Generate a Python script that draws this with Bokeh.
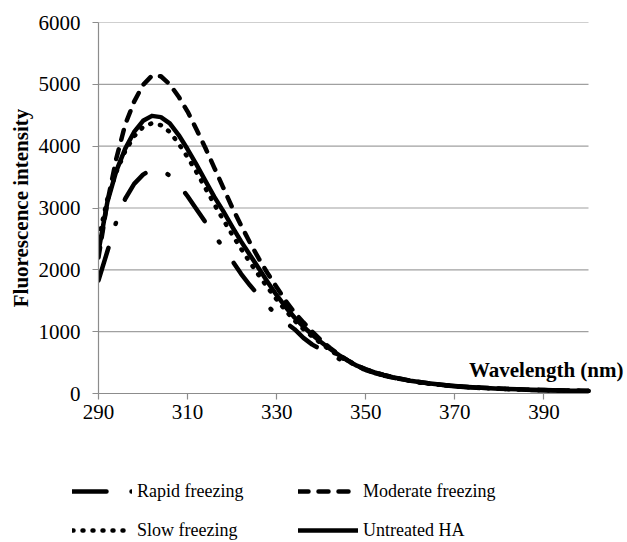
from bokeh.plotting import figure
from bokeh.layouts import column
from bokeh.models import Range1d, FixedTicker, Legend, LegendItem, Label, ColumnDataSource
from bokeh.embed import file_html
from bokeh.resources import INLINE

# ---- data ----
wavelength = [290, 292, 294, 296, 298, 300, 302, 304, 306, 308,
              310, 312, 314, 316, 318, 320, 322, 324, 326, 328,
              330, 332, 334, 336, 338, 340, 342, 344, 346, 348,
              350, 352, 354, 356, 358, 360, 362, 364, 366, 368,
              370, 372, 374, 376, 378, 380, 382, 384, 386, 388,
              390, 392, 394, 396, 398, 400]

rapid = [1830, 2300, 2780, 3150, 3390, 3540, 3630, 3630, 3520, 3380,
         3190, 2980, 2770, 2560, 2360, 2150, 1935, 1750, 1580, 1415,
         1270, 1150, 1040, 900, 790, 710, 630, 560, 495, 435,
         380, 332, 292, 258, 228, 200, 178, 159, 143, 129,
         117, 106, 97, 89, 82, 76, 70, 65, 60, 56,
         53, 50, 47, 44, 42, 40]

moderate = [2200, 3100, 3800, 4350, 4720, 4990, 5140, 5130, 5000, 4800,
            4560, 4270, 3970, 3650, 3330, 3010, 2720, 2440, 2180, 1940,
            1720, 1500, 1310, 1150, 1000, 860, 735, 625, 535, 455,
            392, 342, 300, 265, 235, 207, 186, 166, 149, 134,
            121, 110, 101, 93, 86, 79, 73, 68, 63, 59,
            56, 53, 50, 47, 45, 43]

slow = [2500, 3150, 3580, 3920, 4160, 4310, 4370, 4340, 4230, 4040,
        3820, 3580, 3320, 3060, 2810, 2570, 2340, 2120, 1910, 1710,
        1520, 1340, 1180, 1040, 920, 810, 700, 605, 520, 445,
        385, 335, 295, 260, 230, 202, 180, 161, 145, 130,
        118, 107, 98, 90, 83, 77, 71, 66, 61, 57,
        54, 51, 48, 45, 43, 41]

untreated = [2300, 3100, 3600, 3960, 4230, 4410, 4490, 4470, 4370, 4180,
             3950, 3700, 3440, 3180, 2950, 2700, 2460, 2240, 2020, 1800,
             1590, 1400, 1230, 1080, 950, 830, 720, 620, 530, 450,
             390, 340, 300, 265, 235, 205, 185, 165, 148, 133,
             120, 109, 100, 92, 85, 78, 72, 67, 62, 58,
             55, 52, 49, 46, 44, 42]

series_names = ["Rapid freezing", "Moderate freezing", "Slow freezing", "Untreated HA"]
series_cols = ["rapid", "moderate", "slow", "untreated"]
x_ticks = [290, 310, 330, 350, 370, 390]
y_ticks = [0, 1000, 2000, 3000, 4000, 5000, 6000]
x_min, x_max = 290, 400
y_min, y_max = 0, 6000

FONT = "Liberation Serif"
W = 627
H_PLOT, H_LEG = 445, 97
LEFT, RIGHT_PAD, TOP, BOTTOM = 98, 1, 22, 52
axis_px = 490  # pixel length of the 290-400 axis
frame_px = W - LEFT - RIGHT_PAD
x_end = x_min + (x_max - x_min) * frame_px / axis_px  # frame extends past 400 for the inside title

p = figure(width=W, height=H_PLOT, output_backend="svg", toolbar_location=None,
           x_range=Range1d(x_min, x_end), y_range=Range1d(y_min, y_max),
           min_border_left=LEFT, min_border_right=RIGHT_PAD, min_border_top=TOP,
           min_border_bottom=BOTTOM)
p.outline_line_color = None
p.background_fill_color = "white"
p.border_fill_color = "white"

# horizontal gridlines limited to the axis extent
grid_y = y_ticks[1:]
p.segment(x0=[x_min] * len(grid_y), x1=[x_max] * len(grid_y), y0=grid_y, y1=grid_y,
          line_color="#a0a0a0", line_width=1.2)

src = ColumnDataSource(dict(x=wavelength, rapid=rapid, moderate=moderate,
                            slow=slow, untreated=untreated))

styles = [dict(line_dash="34 25 1 25"), dict(line_dash="10 10"),
          dict(line_dash="1 9"), dict(line_dash="solid")]
common = dict(line_color="black", line_width=4.5, line_cap="round", line_join="round")
for col, st in zip(series_cols, styles):
    p.line("x", col, source=src, **st, **common)

# axes
p.xaxis.ticker = FixedTicker(ticks=x_ticks)
p.yaxis.ticker = FixedTicker(ticks=y_ticks)
p.xaxis.bounds = (x_min, x_max)
p.xaxis.minor_tick_line_color = None
p.yaxis.minor_tick_line_color = None
for ax in (p.xaxis, p.yaxis):
    ax.axis_line_color = "#8c8c8c"
    ax.axis_line_width = 1.2
    ax.major_tick_line_color = "#8c8c8c"
    ax.major_tick_line_width = 1.2
    ax.major_tick_in = 0
    ax.major_tick_out = 6
    ax.major_label_text_font = FONT
    ax.major_label_text_font_size = "21px"
    ax.major_label_text_color = "black"
p.xaxis.major_label_standoff = 5
p.yaxis.major_label_standoff = 12

p.yaxis.axis_label = "Fluorescence intensity"
p.yaxis.axis_label_text_font = FONT
p.yaxis.axis_label_text_font_size = "21px"
p.yaxis.axis_label_text_font_style = "bold"
p.yaxis.axis_label_text_color = "black"
p.yaxis.axis_label_standoff = 3

p.xgrid.grid_line_color = None
p.ygrid.grid_line_color = None

# x-axis title placed inside the plot, right side
xlabel = Label(x=x_max, y=y_min, x_offset=35, y_offset=24, text="Wavelength (nm)",
               text_align="right", text_baseline="alphabetic",
               text_font=FONT, text_font_size="21px", text_font_style="bold",
               text_color="black")
p.add_layout(xlabel)

# ---- legend strip below the chart ----
leg = figure(width=W, height=H_LEG, output_backend="svg", toolbar_location=None,
             x_axis_type=None, y_axis_type=None,
             x_range=Range1d(0, 1), y_range=Range1d(0, 1),
             min_border_left=0, min_border_right=0, min_border_top=0, min_border_bottom=0)
if "frame_align" in leg.properties():
    leg.frame_align = False
    p.frame_align = False
leg.outline_line_color = None
leg.xgrid.grid_line_color = None
leg.ygrid.grid_line_color = None
leg.background_fill_color = "white"
leg.border_fill_color = "white"

# same series drawn off-view in the strip; only their legend samples show
leg_renderers = [leg.line("x", col, source=src, **st, **common)
                 for col, st in zip(series_cols, styles)]
legend = Legend(items=[LegendItem(label=n, renderers=[r]) for n, r in zip(series_names, leg_renderers)],
                orientation="horizontal", ncols=2,
                location=(72, 1), padding=0, margin=0, spacing=17,
                glyph_width=60, glyph_height=22, label_height=22,
                label_standoff=5, label_width=144,
                label_text_font=FONT, label_text_font_size="18px",
                label_text_color="black", border_line_color=None,
                background_fill_alpha=0)
leg.add_layout(legend, "center")

open("out.html", "w").write(file_html(column(p, leg, spacing=0), INLINE))
